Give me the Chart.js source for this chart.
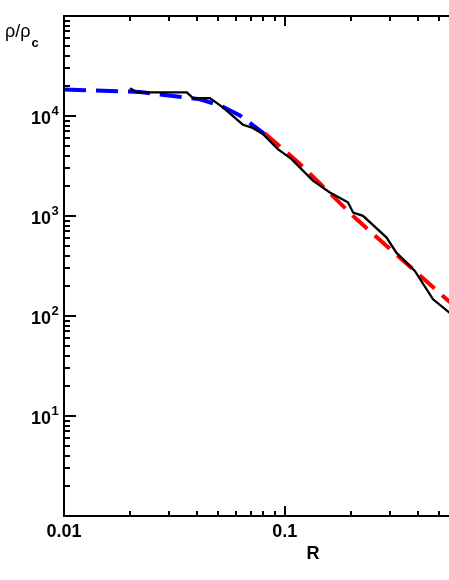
<!DOCTYPE html>
<html><head><meta charset="utf-8">
<script src="https://cdn.jsdelivr.net/npm/chart.js@4/dist/chart.umd.min.js"></script>
<style>
html,body{margin:0;padding:0;overflow:hidden;background:#fff;width:449px;height:580px}
#wrap{position:absolute;left:0;top:0;width:600px;height:580px}
</style>
</head><body><div id="wrap"><canvas id="c" width="600" height="580"></canvas></div>
<script>
// black: measured profile
const blackR   = [0.0199, 0.0214, 0.0360, 0.0384, 0.0458, 0.0524, 0.0646, 0.0716, 0.0795, 0.0930, 0.107, 0.134, 0.160, 0.193, 0.204, 0.226, 0.289, 0.320, 0.388, 0.469, 0.56];
const blackRho = [18930, 17260, 17260, 15120, 15120, 12200, 8180, 7600, 6610, 4670, 3730, 2260, 1720, 1370, 1080, 1005, 608, 430, 282, 147, 107];
// blue dashed: core fit
const blueR   = [0.01, 0.0221, 0.0413, 0.0508, 0.0626, 0.0770, 0.0812];
const blueRho = [18370, 17380, 14680, 12780, 10140, 7170, 6540];
// red dashed: power-law fit
const redR   = [0.0812, 0.117, 0.211, 0.332, 0.56];
const redRho = [6690, 3320, 931, 383, 137];

const yMajorTicks = [1, 10, 100, 1000, 10000, 100000];
const yTickLabels = {10: '10', 100: '10', 1000: '10', 10000: '10'};
const yTickExponents = {10: '1', 100: '2', 1000: '3', 10000: '4'};
const xMajorTicks = [0.01, 0.1, 1];
const xTickLabels = {0.01: '0.01', 0.1: '0.1'};
const minorSteps = [2, 3, 4, 5, 6, 7, 8, 9];

function withMinors(majors){
  const out = [];
  majors.forEach((m, i) => {
    out.push(m);
    if (i < majors.length - 1) minorSteps.forEach(k => out.push(parseFloat((m * k).toPrecision(6))));
  });
  return out;
}
const yTicks = withMinors(yMajorTicks);
const xTicks = withMinors(xMajorTicks);
const pts = (xs, ys) => xs.map((v, i) => ({x: v, y: ys[i]}));
const isPow10 = v => Math.abs(Math.log10(v) - Math.round(Math.log10(v))) < 1e-9;

const FONT = '"Liberation Sans", Arial, Helvetica, sans-serif';
const Y_LABEL_PAD = 13;

const frameTicks = {
  id: 'frameTicks',
  afterDraw(chart){
    const {ctx, chartArea: a, scales: {x, y}} = chart;
    ctx.save();
    ctx.strokeStyle = '#000';
    ctx.lineWidth = 2;
    ctx.beginPath();
    ctx.moveTo(a.left, a.top); ctx.lineTo(a.right, a.top);
    ctx.moveTo(a.left, a.top - 1); ctx.lineTo(a.left, a.bottom + 1);
    ctx.moveTo(a.left, a.bottom); ctx.lineTo(a.right, a.bottom);
    ctx.moveTo(a.right, a.top - 1); ctx.lineTo(a.right, a.bottom + 1);
    y.ticks.forEach(t => {
      const p = Math.round(y.getPixelForValue(t.value));
      const len = isPow10(t.value) ? 12 : 6;
      ctx.moveTo(a.left, p); ctx.lineTo(a.left + len, p);
      ctx.moveTo(a.right, p); ctx.lineTo(a.right - len, p);
    });
    x.ticks.forEach(t => {
      const p = Math.round(x.getPixelForValue(t.value));
      const len = isPow10(t.value) ? 10 : 5;
      ctx.moveTo(p, a.bottom); ctx.lineTo(p, a.bottom - len);
      ctx.moveTo(p, a.top); ctx.lineTo(p, a.top + len);
    });
    ctx.stroke();
    ctx.fillStyle = '#000';
    ctx.textAlign = 'left';
    ctx.textBaseline = 'alphabetic';
    // exponents of the y tick labels
    ctx.font = 'bold 13px ' + FONT;
    y.ticks.forEach(t => {
      const e = yTickExponents[t.value];
      if (e === undefined) return;
      const p = y.getPixelForValue(t.value);
      ctx.fillText(e, a.left - Y_LABEL_PAD + 0.5, p - 1);
    });
    // y axis title
    ctx.font = '18px ' + FONT;
    const main = 'ρ/ρ';
    ctx.fillText(main, 5, 36.5);
    const w = ctx.measureText(main).width;
    ctx.font = 'bold 13px ' + FONT;
    ctx.fillText('c', 5 + w + 1, 46.5);
    ctx.restore();
  }
};

new Chart(document.getElementById('c'), {
  type: 'scatter',
  data: {
    datasets: [
      {label: 'profile', data: pts(blackR, blackRho), showLine: true, borderColor: '#000000', borderWidth: 2.3, pointRadius: 0, fill: false, tension: 0},
      {label: 'power law', data: pts(redR, redRho), showLine: true, borderColor: '#ff0000', borderWidth: 4, borderDash: [20, 10], pointRadius: 0, fill: false, tension: 0},
      {label: 'core', data: pts(blueR, blueRho), showLine: true, borderColor: '#0000ff', borderWidth: 4, borderDash: [22, 10], pointRadius: 0, fill: false, tension: 0}
    ]
  },
  options: {
    responsive: false,
    animation: false,
    devicePixelRatio: 1,
    layout: {padding: {top: 16, right: 38, left: 0, bottom: 0}},
    plugins: {legend: {display: false}, tooltip: {enabled: false}},
    scales: {
      x: {
        type: 'logarithmic', position: 'bottom', min: 0.01, max: 1.8,
        afterBuildTicks(s){ s.ticks = xTicks.map(v => ({value: v, major: isPow10(v)})); },
        afterFit(s){ s.height = 64; s.paddingLeft = 0; s.paddingRight = 0; },
        grid: {display: false, drawTicks: false},
        border: {display: false},
        ticks: {autoSkip: false, maxRotation: 0, padding: 5, color: '#000',
          font: {family: FONT, size: 18, weight: 'bold'},
          callback: v => (xTickLabels[v] !== undefined ? xTickLabels[v] : '')},
        title: {display: true, text: 'R', color: '#000', font: {family: FONT, size: 18, weight: 'bold'}, padding: {top: 0, bottom: 15}}
      },
      y: {
        type: 'logarithmic', position: 'left', min: 1, max: 100000,
        afterBuildTicks(s){ s.ticks = yTicks.map(v => ({value: v, major: isPow10(v)})); },
        afterFit(s){ s.width = 64; s.paddingTop = 0; s.paddingBottom = 0; },
        grid: {display: false, drawTicks: false},
        border: {display: false},
        ticks: {autoSkip: false, padding: Y_LABEL_PAD, labelOffset: 3, color: '#000',
          font: {family: FONT, size: 18, weight: 'bold'},
          callback: v => (yTickLabels[v] !== undefined ? yTickLabels[v] : '')}
      }
    }
  },
  plugins: [frameTicks]
});
</script>
</body></html>
